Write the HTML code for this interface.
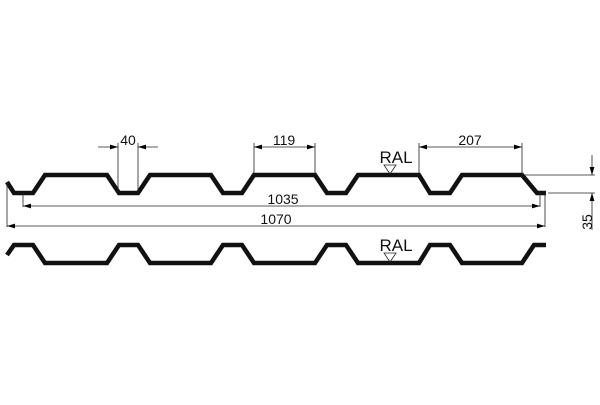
<!DOCTYPE html>
<html><head><style>body{margin:0;background:#fff}</style></head><body>
<svg width="600" height="400" xmlns="http://www.w3.org/2000/svg" font-family="Liberation Sans, Arial, sans-serif">
<defs><marker id="a" markerWidth="10" markerHeight="6" refX="10" refY="3" orient="auto"><path d="M0,0L10,3L0,6z" fill="#000"/></marker></defs>
<g fill="none" stroke="#111" stroke-width="4.5" stroke-linejoin="miter">
<polyline points="7,182 14,193 33,193 45,175 107,175 119,193 138,193 150,175 211,175 223,193 242,193 254,175 315,175 327,193 346,193 358,175 419,175 430,193 450,193 462,175 522,175 537,193 546,193"/>
<polyline points="7,255 14,245 33,245 45,263 107,263 119,245 138,245 150,263 211,263 223,245 242,245 254,263 315,263 327,245 346,245 358,263 419,263 430,245 450,245 462,263 522,263 534,245 546,245"/>
</g>
<g stroke="#222" stroke-width="0.8" fill="none">
<line x1="118" y1="143" x2="118" y2="193"/><line x1="138" y1="143" x2="138" y2="193"/>
<line x1="98" y1="147" x2="118" y2="147" marker-end="url(#a)"/><line x1="158" y1="147" x2="138" y2="147" marker-end="url(#a)"/>
<line x1="254" y1="143" x2="254" y2="175"/><line x1="315" y1="143" x2="315" y2="175"/>
<line x1="284" y1="147" x2="254" y2="147" marker-end="url(#a)"/><line x1="284" y1="147" x2="315" y2="147" marker-end="url(#a)"/>
<line x1="419" y1="143" x2="419" y2="175"/><line x1="522" y1="143" x2="522" y2="175"/>
<line x1="470" y1="147" x2="419" y2="147" marker-end="url(#a)"/><line x1="470" y1="147" x2="522" y2="147" marker-end="url(#a)"/>
<line x1="23" y1="193" x2="23" y2="207"/><line x1="540" y1="193" x2="540" y2="207"/>
<line x1="280" y1="206" x2="23" y2="206" marker-end="url(#a)"/><line x1="280" y1="206" x2="540" y2="206" marker-end="url(#a)"/>
<line x1="7" y1="182" x2="7" y2="227"/><line x1="545" y1="193" x2="545" y2="227"/>
<line x1="276" y1="226" x2="7" y2="226" marker-end="url(#a)"/><line x1="276" y1="226" x2="545" y2="226" marker-end="url(#a)"/>
<line x1="525" y1="175" x2="595" y2="175"/><line x1="548" y1="193" x2="595" y2="193"/>
<line x1="592" y1="155" x2="592" y2="175" marker-end="url(#a)"/><line x1="592" y1="230" x2="592" y2="193" marker-end="url(#a)"/>
<path d="M384,165 L396,165 L390,174Z"/><path d="M384,253 L396,253 L390,262Z"/>
</g>
<g font-size="14" fill="#111" text-anchor="middle">
<text x="128" y="145">40</text>
<text x="284" y="145">119</text>
<text x="470" y="145">207</text>
<text x="283" y="204">1035</text>
<text x="276" y="224">1070</text>
<text x="396" y="163" font-size="17">RAL</text>
<text x="396" y="251" font-size="17">RAL</text>
<text transform="translate(592,222) rotate(-90)">35</text>
</g>
</svg>
</body></html>
